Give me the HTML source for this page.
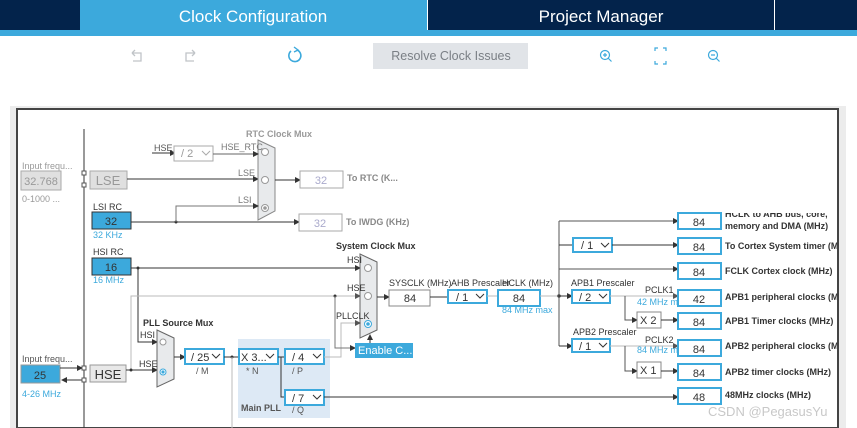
<!DOCTYPE html>
<html><head><meta charset="utf-8"><style>
html,body{margin:0;padding:0;width:857px;height:428px;overflow:hidden;background:#fff;font-family:"Liberation Sans",sans-serif}
svg{display:block}
</style></head><body>
<svg width="857" height="428" viewBox="0 0 857 428" xmlns="http://www.w3.org/2000/svg" font-family="Liberation Sans, sans-serif">
<defs>
<marker id="a" markerWidth="6" markerHeight="6" refX="5" refY="3" orient="auto" markerUnits="userSpaceOnUse"><path d="M0,0 L6,3 L0,6 z" fill="#333"/></marker>
<marker id="ag" markerWidth="6" markerHeight="6" refX="5" refY="3" orient="auto" markerUnits="userSpaceOnUse"><path d="M0,0 L6,3 L0,6 z" fill="#555"/></marker>
</defs>
<!-- header -->
<rect x="0" y="0" width="857" height="30" fill="#03234b"/>
<rect x="80" y="0" width="347" height="30" fill="#3ca9dc"/>
<rect x="427" y="0" width="1" height="30" fill="#fff"/>
<rect x="774" y="0" width="1" height="30" fill="#fff"/>
<rect x="0" y="30" width="857" height="6" fill="#3ca9dc"/>
<text x="253" y="22" font-size="17" fill="#fff" text-anchor="middle">Clock Configuration</text>
<text x="601" y="22" font-size="17" fill="#fff" text-anchor="middle">Project Manager</text>
<!-- toolbar -->
<g stroke="#c0c4c8" stroke-width="1.3" fill="none">
<path d="M132,53 h9 v8 h-8 M132,53 l3,-3 M132,53 l3,3"/>
<path d="M195,53 h-9 v8 h8 M195,53 l-3,-3 M195,53 l-3,3"/>
</g>
<path d="M291,51 A6,6 0 1 0 297,50" stroke="#3ca9dc" stroke-width="1.6" fill="none"/>
<path d="M294,47 l4,3 l-4,2" stroke="#3ca9dc" stroke-width="1.4" fill="none"/>
<rect x="373" y="43" width="155" height="26" fill="#e1e4e8"/>
<text x="451" y="60" font-size="12.5" fill="#7a7f85" text-anchor="middle">Resolve Clock Issues</text>
<g stroke="#3ca9dc" stroke-width="1.2" fill="none">
<circle cx="605" cy="55" r="4.5"/><path d="M608,58 l3.5,3.5 M603,55 h4 M605,53 v4"/>
<path d="M655,51 v-3 h3 M663,48 h3 v3 M666,61 v3 h-3 M658,64 h-3 v-3"/>
<circle cx="713" cy="55" r="4.5"/><path d="M716,58 l3.5,3.5 M711,55 h4"/>
</g>
<!-- panel -->
<rect x="10" y="106" width="836" height="322" fill="#ececec"/>
<rect x="17" y="109" width="821" height="319" fill="#fff" stroke="#444" stroke-width="2"/>
<g font-size="9" fill="#333">
<!-- left -->
<line x1="84" y1="129" x2="84" y2="428" stroke="#333"/>
<text x="22" y="169" fill="#999">Input frequ...</text>
<rect x="21" y="171" width="40" height="19" fill="#e0e0e0" stroke="#aaa"/>
<text x="41" y="185" font-size="11" fill="#999" text-anchor="middle">32.768</text>
<text x="22" y="202" fill="#999">0-1000 ...</text>
<rect x="82" y="171" width="4" height="4" fill="#fff" stroke="#555"/>
<rect x="82" y="183" width="4" height="4" fill="#fff" stroke="#555"/>
<rect x="90" y="171" width="37" height="18" fill="#e0e0e0" stroke="#aaa"/>
<text x="108" y="185" font-size="13" fill="#999" text-anchor="middle">LSE</text>
<line x1="127" y1="179" x2="258" y2="179" stroke="#333" marker-end="url(#a)"/>
<!-- RTC mux -->
<text x="246" y="137" fill="#999" font-weight="bold">RTC Clock Mux</text>
<path d="M258,140 L275,148 L275,211 L258,220 z" fill="#e8eaec" stroke="#888"/>
<circle cx="265" cy="152" r="3.5" fill="#fff" stroke="#999"/>
<circle cx="265" cy="180" r="3.5" fill="#fff" stroke="#999"/>
<circle cx="265" cy="208" r="3.5" fill="#fff" stroke="#999"/><circle cx="265" cy="208" r="1.8" fill="#999"/>
<text x="154" y="151" fill="#555">HSE</text>
<line x1="152" y1="153" x2="175" y2="153" stroke="#333" marker-end="url(#a)"/>
<rect x="174" y="146" width="39" height="15" fill="#fff" stroke="#aaa"/>
<text x="181" y="157" font-size="11" fill="#999">/ 2</text><path d="M202,151 l4,4 l4,-4" stroke="#aaa" fill="none"/>
<text x="221" y="150" fill="#777">HSE_RTC</text>
<line x1="213" y1="154" x2="258" y2="154" stroke="#666" marker-end="url(#a)"/>
<text x="238" y="176" fill="#777">LSE</text>
<text x="238" y="203" fill="#777">LSI</text>
<line x1="275" y1="180" x2="300" y2="180" stroke="#333" marker-end="url(#a)"/>
<rect x="300" y="171" width="43" height="17" fill="#fff" stroke="#aaa"/>
<text x="321" y="184" font-size="11" fill="#aac" text-anchor="middle">32</text>
<text x="347" y="181" fill="#888" font-weight="bold">To RTC (K...</text>
<!-- LSI -->
<text x="93" y="210">LSI RC</text>
<rect x="92" y="212" width="39" height="17" fill="#3ca9dc" stroke="#333"/>
<text x="111" y="225" font-size="11" text-anchor="middle">32</text>
<text x="93" y="238" fill="#3ca9dc">32 KHz</text>
<line x1="131" y1="222" x2="299" y2="222" stroke="#333" marker-end="url(#a)"/>
<circle cx="176" cy="222" r="1.5" fill="#333"/>
<polyline points="176,222 176,206 258,206" fill="none" stroke="#777" marker-end="url(#a)"/>
<rect x="299" y="214" width="43" height="17" fill="#fff" stroke="#aaa"/>
<text x="320" y="227" font-size="11" fill="#aac" text-anchor="middle">32</text>
<text x="346" y="225" fill="#888" font-weight="bold">To IWDG (KHz)</text>
<!-- HSI -->
<text x="93" y="255">HSI RC</text>
<rect x="92" y="258" width="39" height="17" fill="#3ca9dc" stroke="#333"/>
<text x="111" y="271" font-size="11" text-anchor="middle">16</text>
<text x="93" y="283" fill="#3ca9dc">16 MHz</text>
<line x1="131" y1="268" x2="360" y2="268" stroke="#333" marker-end="url(#a)"/>
<circle cx="138" cy="268" r="1.5" fill="#333"/>
<polyline points="138,268 138,342 157,342" fill="none" stroke="#333" marker-end="url(#a)"/>
<!-- HSE line -->
<polyline points="131,370 131,296 360,296" fill="none" stroke="#bbb" marker-end="url(#ag)"/>
<circle cx="335" cy="296" r="1.5" fill="#333"/>
<!-- sys mux -->
<text x="336" y="249" font-weight="bold">System Clock Mux</text>
<path d="M360,254 L377,262 L377,330 L360,338 z" fill="#e8eaec" stroke="#666"/>
<text x="347" y="263">HSI</text><text x="347" y="291">HSE</text><text x="336" y="319">PLLCLK</text>
<circle cx="368" cy="268" r="3.5" fill="#fff" stroke="#999"/>
<circle cx="368" cy="296" r="3.5" fill="#fff" stroke="#999"/>
<circle cx="368" cy="324" r="3.5" fill="#fff" stroke="#3ca9dc"/><circle cx="368" cy="324" r="1.8" fill="#3ca9dc"/>
<line x1="377" y1="297" x2="389" y2="297" stroke="#333" marker-end="url(#a)"/>
<text x="389" y="286">SYSCLK (MHz)</text>
<rect x="389" y="290" width="41" height="16" fill="#fff" stroke="#888"/>
<text x="410" y="302" font-size="11" text-anchor="middle">84</text>
<!-- HSE input -->
<text x="22" y="362" fill="#555">Input frequ...</text>
<rect x="21" y="365" width="39" height="18" fill="#3ca9dc" stroke="#999"/>
<text x="40" y="379" font-size="11" text-anchor="middle">25</text>
<text x="22" y="397" fill="#3ca9dc">4-26 MHz</text>
<line x1="60" y1="368" x2="82" y2="368" stroke="#333" marker-end="url(#a)"/>
<line x1="84" y1="380" x2="62" y2="380" stroke="#333" marker-end="url(#a)"/>
<rect x="82" y="366" width="4" height="4" fill="#fff" stroke="#555"/>
<rect x="82" y="378" width="4" height="4" fill="#fff" stroke="#555"/>
<rect x="90" y="365" width="36" height="17" fill="#e8e8e8" stroke="#999"/>
<text x="108" y="379" font-size="13" text-anchor="middle">HSE</text>
<line x1="126" y1="370" x2="157" y2="370" stroke="#333" marker-end="url(#a)"/>
<circle cx="131" cy="370" r="1.5" fill="#333"/>
<!-- PLL src mux -->
<text x="143" y="326" font-weight="bold">PLL Source Mux</text>
<path d="M157,330 L174,338 L174,379 L157,387 z" fill="#e8eaec" stroke="#666"/>
<text x="140" y="338">HSI</text><text x="139" y="367">HSE</text>
<circle cx="163" cy="342" r="3" fill="#fff" stroke="#999"/>
<circle cx="163" cy="372" r="3" fill="#fff" stroke="#3ca9dc"/><circle cx="163" cy="372" r="1.6" fill="#3ca9dc"/>
<line x1="174" y1="357" x2="185" y2="357" stroke="#333" marker-end="url(#a)"/>
<!-- main PLL -->
<rect x="238" y="339" width="92" height="79" fill="#dde9f5"/>
<rect x="185" y="349" width="39" height="15" fill="#fff" stroke="#3ca9dc" stroke-width="2"/>
<text x="191" y="361" font-size="11">/ 25</text><path d="M212,354 l4,4 l4,-4" stroke="#333" fill="none"/>
<text x="196" y="374" fill="#555">/ M</text>
<line x1="224" y1="357" x2="239" y2="357" stroke="#333"/>
<circle cx="232" cy="357" r="1.5" fill="#333"/>
<line x1="232" y1="357" x2="232" y2="428" stroke="#bbb"/>
<rect x="239" y="349" width="39" height="15" fill="#fff" stroke="#3ca9dc" stroke-width="2"/>
<text x="241" y="361" font-size="11">X 3...</text><path d="M266,354 l4,4 l4,-4" stroke="#333" fill="none"/>
<text x="246" y="374" fill="#555">* N</text>
<polyline points="278,357 285,357" stroke="#333"/>
<polyline points="281,357 281,397 285,397" fill="none" stroke="#333"/>
<rect x="285" y="349" width="39" height="15" fill="#fff" stroke="#3ca9dc" stroke-width="2"/>
<text x="292" y="361" font-size="11">/ 4</text><path d="M313,354 l4,4 l4,-4" stroke="#333" fill="none"/>
<text x="292" y="374" fill="#555">/ P</text>
<rect x="285" y="390" width="39" height="15" fill="#fff" stroke="#3ca9dc" stroke-width="2"/>
<text x="292" y="402" font-size="11">/ 7</text><path d="M313,395 l4,4 l4,-4" stroke="#333" fill="none"/>
<text x="292" y="413" fill="#555">/ Q</text>
<text x="241" y="411" font-weight="bold" fill="#555">Main PLL</text>
<polyline points="324,357 341,357 341,323 360,323" fill="none" stroke="#bbb" marker-end="url(#ag)"/>
<polyline points="335,296 335,348 355,348" fill="none" stroke="#777" marker-end="url(#a)"/>
<rect x="355" y="343" width="58" height="15" fill="#3ca9dc"/>
<text x="358" y="354" font-size="11" fill="#fff">Enable C...</text>
<line x1="370" y1="343" x2="370" y2="335" stroke="#333" marker-end="url(#a)"/>
<line x1="324" y1="397" x2="678" y2="397" stroke="#333" marker-end="url(#a)"/>
<!-- AHB -->
<line x1="430" y1="297" x2="448" y2="297" stroke="#333"/>
<text x="451" y="286">AHB Prescaler</text>
<text x="502" y="286">HCLK (MHz)</text>
<rect x="448" y="290" width="39" height="13" fill="#fff" stroke="#3ca9dc" stroke-width="2"/>
<text x="456" y="301" font-size="11">/ 1</text><path d="M476,294 l4,4 l4,-4" stroke="#333" fill="none"/>
<line x1="487" y1="296" x2="498" y2="296" stroke="#bbb"/>
<rect x="498" y="290" width="42" height="16" fill="#fff" stroke="#3ca9dc" stroke-width="2"/>
<text x="519" y="302" font-size="11" text-anchor="middle">84</text>
<text x="502" y="313" fill="#3ca9dc">84 MHz max</text>
<line x1="540" y1="296" x2="559" y2="296" stroke="#bbb"/>
<circle cx="559" cy="296" r="1.7" fill="#333"/>
<line x1="559" y1="221" x2="559" y2="346" stroke="#555"/>
<line x1="559" y1="221" x2="678" y2="221" stroke="#555" marker-end="url(#a)"/>
<line x1="559" y1="245" x2="573" y2="245" stroke="#333"/>
<rect x="573" y="238" width="39" height="14" fill="#fff" stroke="#3ca9dc" stroke-width="2"/>
<text x="581" y="249" font-size="11">/ 1</text><path d="M601,243 l4,4 l4,-4" stroke="#333" fill="none"/>
<line x1="612" y1="245" x2="678" y2="245" stroke="#333" marker-end="url(#a)"/>
<line x1="559" y1="269" x2="678" y2="269" stroke="#555" marker-end="url(#a)"/>
<text x="571" y="286">APB1 Prescaler</text>
<line x1="559" y1="296" x2="572" y2="296" stroke="#333" marker-end="url(#a)"/>
<rect x="572" y="290" width="38" height="13" fill="#fff" stroke="#3ca9dc" stroke-width="2"/>
<text x="579" y="301" font-size="11">/ 2</text><path d="M599,294 l4,4 l4,-4" stroke="#333" fill="none"/>
<line x1="610" y1="296" x2="678" y2="296" stroke="#bbb" marker-end="url(#ag)"/>
<text x="645" y="293">PCLK1</text>
<text x="637" y="305" fill="#3ca9dc">42 MHz max</text>
<polyline points="625,296 625,320 637,320" fill="none" stroke="#555" marker-end="url(#a)"/>
<rect x="637" y="312" width="24" height="16" fill="#fff" stroke="#888"/>
<text x="640" y="324" font-size="11">X 2</text>
<line x1="661" y1="320" x2="678" y2="320" stroke="#333" marker-end="url(#a)"/>
<text x="573" y="335">APB2 Prescaler</text>
<line x1="559" y1="346" x2="572" y2="346" stroke="#333" marker-end="url(#a)"/>
<rect x="572" y="339" width="38" height="13" fill="#fff" stroke="#3ca9dc" stroke-width="2"/>
<text x="579" y="350" font-size="11">/ 1</text><path d="M599,343 l4,4 l4,-4" stroke="#333" fill="none"/>
<line x1="610" y1="346" x2="678" y2="346" stroke="#bbb" marker-end="url(#ag)"/>
<text x="645" y="343">PCLK2</text>
<text x="637" y="353" fill="#3ca9dc">84 MHz max</text>
<polyline points="625,346 625,371 637,371" fill="none" stroke="#555" marker-end="url(#a)"/>
<rect x="637" y="362" width="24" height="16" fill="#fff" stroke="#888"/>
<text x="640" y="374" font-size="11">X 1</text>
<line x1="661" y1="371" x2="678" y2="371" stroke="#333" marker-end="url(#a)"/>
<!-- output boxes -->
<g stroke="#3ca9dc" stroke-width="2" fill="#fff">
<rect x="678" y="213" width="43" height="16"/>
<rect x="678" y="238" width="43" height="16"/>
<rect x="678" y="263" width="43" height="16"/>
<rect x="678" y="290" width="43" height="16"/>
<rect x="678" y="313" width="43" height="16"/>
<rect x="678" y="340" width="43" height="16"/>
<rect x="678" y="364" width="43" height="16"/>
<rect x="678" y="388" width="43" height="16"/>
</g>
<g font-size="11" text-anchor="middle">
<text x="699" y="226">84</text><text x="699" y="251">84</text><text x="699" y="276">84</text><text x="699" y="303">42</text>
<text x="699" y="326">84</text><text x="699" y="353">84</text><text x="699" y="377">84</text><text x="699" y="401">48</text>
</g>
<g font-weight="bold">
<text x="725" y="217">HCLK to AHB bus, core,</text>
<text x="725" y="229">memory and DMA (MHz)</text>
<text x="725" y="249">To Cortex System timer (MHz)</text>
<text x="725" y="274">FCLK Cortex clock (MHz)</text>
<text x="725" y="300">APB1 peripheral clocks (MHz)</text>
<text x="725" y="324">APB1 Timer clocks (MHz)</text>
<text x="725" y="349">APB2 peripheral clocks (MHz)</text>
<text x="725" y="375">APB2 timer clocks (MHz)</text>
<text x="725" y="398">48MHz clocks (MHz)</text>
</g>
</g>
<rect x="722" y="205" width="120" height="8" fill="#fff"/>
<rect x="839" y="109" width="18" height="319" fill="#ececec"/>
<rect x="837" y="109" width="2" height="319" fill="#444"/>
<rect x="846" y="106" width="11" height="322" fill="#fff"/>
<text x="708" y="416" font-size="13" fill="#c8c8c8">CSDN @PegasusYu</text>
</svg>
</body></html>
